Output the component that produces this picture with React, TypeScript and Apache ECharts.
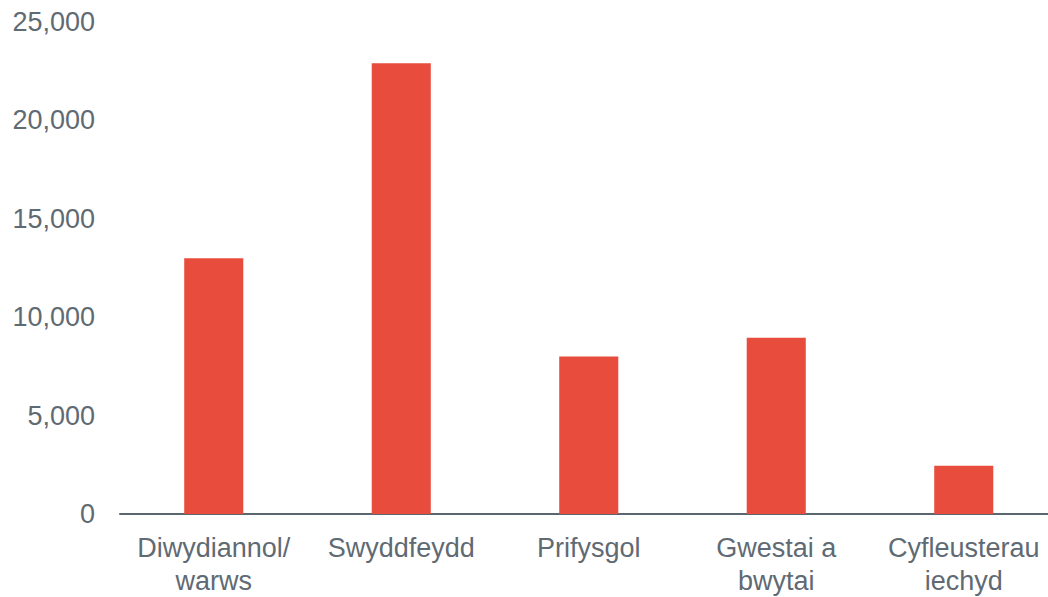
import React, { useEffect, useRef } from "react";
import * as echarts from "echarts";

const categories = ["Diwydiannol/\nwarws", "Swyddfeydd", "Prifysgol", "Gwestai a\nbwytai", "Cyfleusterau\niechyd"];
const values = [13000, 22900, 8000, 8950, 2450];
const yMin = 0;
const yMax = 25000;
const yInterval = 5000;

const textColor = "#5f6a73";
const axisColor = "#5a6670";
const barColor = "#E74C3C";
const fontFamily = "Arial, 'Liberation Sans', Helvetica, sans-serif";

export default function App() {
  const ref = useRef<HTMLDivElement>(null);
  useEffect(() => {
    if (!ref.current) return;
    const chart = echarts.init(ref.current, undefined, { renderer: "svg" });
    chart.setOption({
      animation: false,
      backgroundColor: "#ffffff",
      grid: { left: 120, right: 2.5, top: 22, bottom: 81, containLabel: false },
      xAxis: {
        type: "category",
        data: categories,
        axisLine: { show: true, lineStyle: { color: axisColor, width: 2 } },
        axisTick: { show: false },
        axisLabel: {
          show: true,
          interval: 0,
          color: textColor,
          fontSize: 27,
          fontFamily,
          lineHeight: 33,
          margin: 17,
        },
      },
      yAxis: {
        type: "value",
        min: yMin,
        max: yMax,
        interval: yInterval,
        axisLine: { show: false },
        axisTick: { show: false },
        splitLine: { show: false },
        axisLabel: {
          color: textColor,
          fontSize: 27,
          fontFamily,
          margin: 25,
          formatter: (v: number) => v.toLocaleString("en-US"),
        },
      },
      series: [
        {
          type: "bar",
          data: values,
          barWidth: "31.5%",
          itemStyle: { color: barColor },
        },
      ],
    });
    return () => chart.dispose();
  }, []);
  return (
    <div style={{ position: "fixed", left: 0, top: 0, width: 1048, height: 597, overflow: "hidden", background: "#fff" }}>
      <div ref={ref} style={{ width: 1060, height: 597 }} />
    </div>
  );
}
